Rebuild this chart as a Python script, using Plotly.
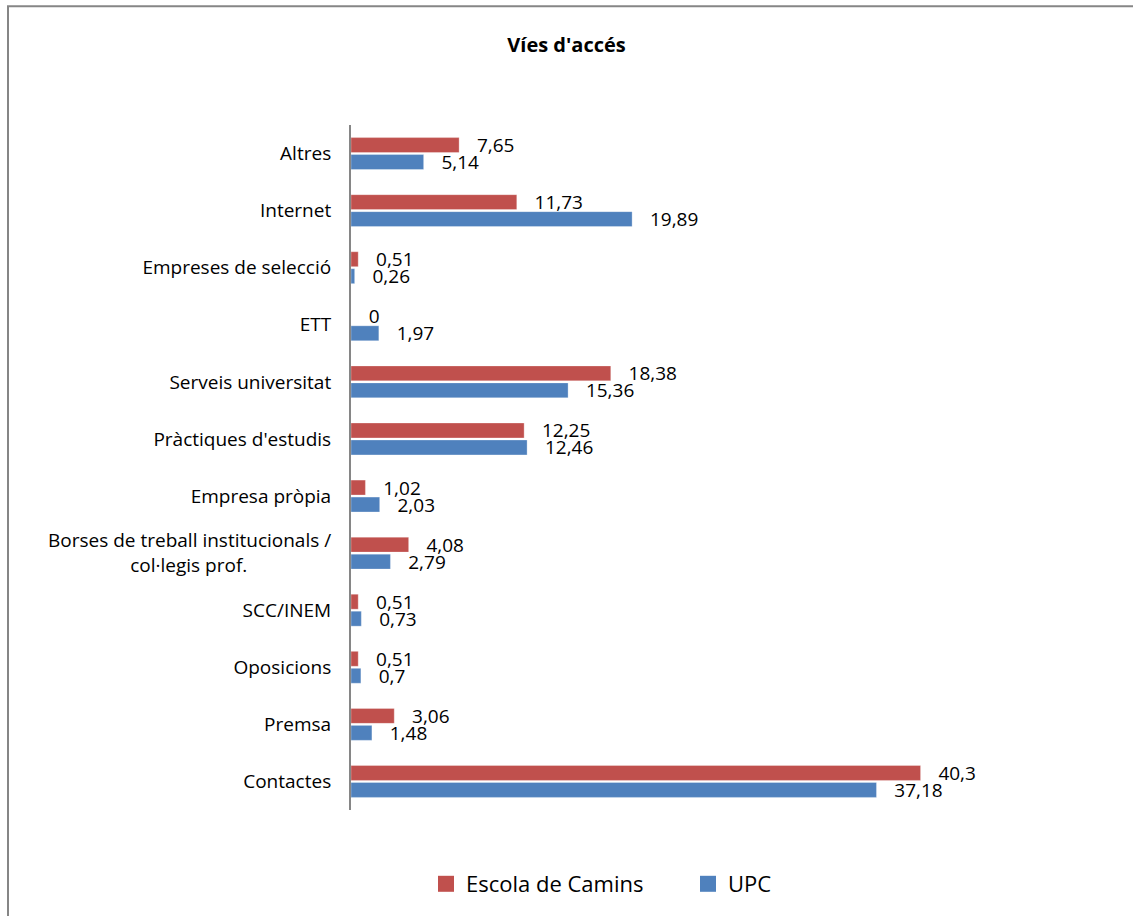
import plotly.graph_objects as go

# Categories listed top to bottom as in the chart
categories = [
    "Altres",
    "Internet",
    "Empreses de selecció",
    "ETT",
    "Serveis universitat",
    "Pràctiques d'estudis",
    "Empresa pròpia",
    "Borses de treball institucionals / col·legis prof.",
    "SCC/INEM",
    "Oposicions",
    "Premsa",
    "Contactes",
]
tick_labels = [
    "Altres",
    "Internet",
    "Empreses de selecció",
    "ETT",
    "Serveis universitat",
    "Pràctiques d'estudis",
    "Empresa pròpia",
    "Borses de treball institucionals /<br>col·legis prof." + "\u00a0" * 17,
    "SCC/INEM",
    "Oposicions",
    "Premsa",
    "Contactes",
]
escola = [7.65, 11.73, 0.51, 0, 18.38, 12.25, 1.02, 4.08, 0.51, 0.51, 3.06, 40.3]
upc = [5.14, 19.89, 0.26, 1.97, 15.36, 12.46, 2.03, 2.79, 0.73, 0.7, 1.48, 37.18]
series_names = ["Escola de Camins", "UPC"]

RED = "#C0504D"
BLUE = "#4F81BD"
FONT = "Open Sans"


def fmt(v):
    return "\u00a0\u00a0\u00a0" + f"{v:g}".replace(".", ",")


fig = go.Figure()
for name, vals, col in [(series_names[0], escola, RED), (series_names[1], upc, BLUE)]:
    fig.add_trace(go.Bar(
        y=categories, x=vals, name=name, orientation="h", showlegend=False,
        marker=dict(color=col, line=dict(color="rgba(255,255,255,0.6)", width=0.5)),
        text=[fmt(v) for v in vals], textposition="outside",
        constraintext="none", cliponaxis=False,
        textfont=dict(family=FONT, size=19, color="#000000"),
    ))
# legend entries with larger square symbols
for name, col in [(series_names[0], RED), (series_names[1], BLUE)]:
    fig.add_trace(go.Scatter(
        x=[None], y=[None], mode="markers", name=name,
        marker=dict(symbol="square", size=16, color=col),
    ))

W, H = 1133, 916
L, R, T, B = 351, 146, 125, 105
pw, ph = W - L - R, H - T - B

def px2paper_x(x):
    return (x - L) / pw

def px2paper_y(y):
    return 1 - (y - T) / ph

fig.update_layout(
    width=W, height=H,
    margin=dict(l=L, r=R, t=T, b=B),
    paper_bgcolor="white", plot_bgcolor="white",
    barmode="group", bargap=0.405, bargroupgap=0.12,
    font=dict(family=FONT, color="#000000"),
    title=dict(text="<b>Víes d'accés</b>", x=0.5, xanchor="center",
               y=1 - 45 / H, yanchor="middle", yref="container",
               font=dict(family=FONT, size=20, color="#000000")),
    xaxis=dict(range=[0, 45], showline=False, showgrid=False, zeroline=False,
               showticklabels=False, ticks=""),
    yaxis=dict(autorange="reversed", type="category",
               tickvals=categories, ticktext=tick_labels,
               showline=True, linecolor="#868686", linewidth=2,
               showgrid=False, zeroline=False, ticks="",
               ticklabelstandoff=14,
               tickfont=dict(family=FONT, size=19, color="#000000")),
    legend=dict(orientation="h", x=px2paper_x(426), xanchor="left",
                y=px2paper_y(884), yanchor="middle",
                font=dict(family=FONT, size=22, color="#000000"),
                itemclick=False, itemwidth=30, entrywidth=217),
    shapes=[dict(type="rect", xref="paper", yref="paper",
                 x0=px2paper_x(8), x1=px2paper_x(1150),
                 y0=px2paper_y(940), y1=px2paper_y(6),
                 line=dict(color="#868686", width=2), fillcolor="rgba(0,0,0,0)",
                 layer="below")],
)

fig.write_html("out.html", config={"displayModeBar": False},
               post_script="document.body.style.margin='0';")
